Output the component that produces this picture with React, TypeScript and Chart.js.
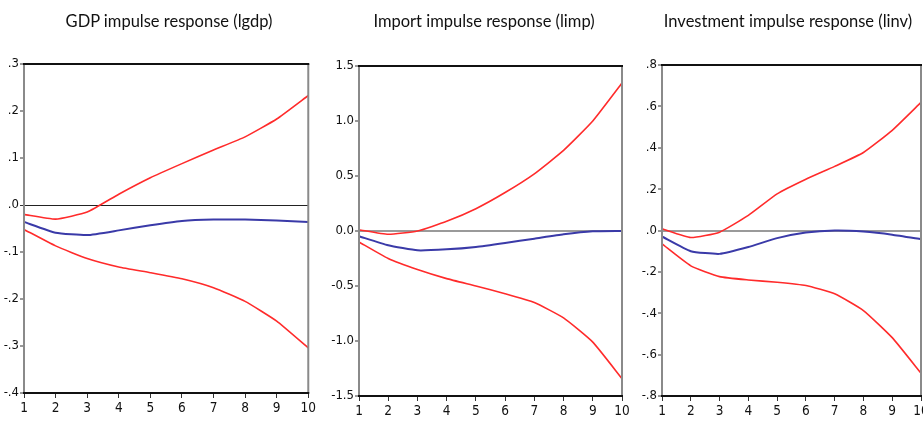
import React, { useEffect, useRef } from "react";
import { Chart, registerables } from "chart.js";

Chart.register(...registerables);

const periods = ["1", "2", "3", "4", "5", "6", "7", "8", "9", "10"];

const gdpUpper = [-0.02, -0.03, -0.015, 0.023, 0.058, 0.088, 0.117, 0.145, 0.183, 0.233];
const gdpMid = [-0.036, -0.059, -0.064, -0.054, -0.043, -0.034, -0.031, -0.031, -0.033, -0.036];
const gdpLower = [-0.052, -0.087, -0.114, -0.132, -0.144, -0.157, -0.176, -0.205, -0.247, -0.304];

const impUpper = [0.012, -0.03, 0.0, 0.088, 0.203, 0.35, 0.52, 0.733, 1.0, 1.345];
const impMid = [-0.048, -0.13, -0.176, -0.167, -0.145, -0.109, -0.07, -0.03, -0.003, 0.0];
const impLower = [-0.1, -0.25, -0.35, -0.433, -0.5, -0.57, -0.65, -0.79, -1.01, -1.342];

const invUpper = [0.008, -0.034, -0.008, 0.073, 0.177, 0.248, 0.31, 0.377, 0.484, 0.619];
const invMid = [-0.029, -0.1, -0.113, -0.08, -0.037, -0.01, 0.0, -0.005, -0.02, -0.042];
const invLower = [-0.065, -0.171, -0.223, -0.239, -0.25, -0.266, -0.306, -0.387, -0.518, -0.69];

const titles = [
  "GDP impulse response (lgdp)",
  "Import impulse response (limp)",
  "Investment impulse response (linv)",
];

const RED = "#ff2b2b";
const BLUE = "#3a3aa8";
const TICK_FONT = "'Liberation Sans Narrow', 'DejaVu Sans Condensed', Arial, sans-serif";

type PanelCfg = {
  upper: number[];
  mid: number[];
  lower: number[];
  min: number;
  max: number;
  step: number;
  dropZero: boolean;
  zeroColor: string;
  zeroWidth: number;
  left: number;
  width: number;
  yWidth: number;
  padRight: number;
  top: number;
  bottom: number;
  titleCenter: number;
};

const panels: PanelCfg[] = [
  {
    upper: gdpUpper, mid: gdpMid, lower: gdpLower,
    min: -0.4, max: 0.3, step: 0.1, dropZero: true,
    zeroColor: "#222", zeroWidth: 1,
    left: 0, width: 318, yWidth: 24, padRight: 9, top: 64, bottom: 393, titleCenter: 169,
  },
  {
    upper: impUpper, mid: impMid, lower: impLower,
    min: -1.5, max: 1.5, step: 0.5, dropZero: false,
    zeroColor: "#9a9a9a", zeroWidth: 2,
    left: 312, width: 320, yWidth: 47, padRight: 10, top: 66, bottom: 396, titleCenter: 484,
  },
  {
    upper: invUpper, mid: invMid, lower: invLower,
    min: -0.8, max: 0.8, step: 0.2, dropZero: true,
    zeroColor: "#9a9a9a", zeroWidth: 2,
    left: 620, width: 320, yWidth: 42, padRight: 19, top: 65, bottom: 396, titleCenter: 788,
  },
];

const framePlugin = {
  id: "frame",
  afterDraw(chart: any) {
    const { ctx, chartArea } = chart;
    const { left, right, top, bottom } = chartArea;
    ctx.save();
    ctx.lineWidth = 2;
    ctx.strokeStyle = "#8a8a8a";
    ctx.beginPath();
    ctx.moveTo(left, top);
    ctx.lineTo(left, bottom);
    ctx.moveTo(right, top);
    ctx.lineTo(right, bottom);
    ctx.stroke();
    ctx.strokeStyle = "#111";
    ctx.beginPath();
    ctx.moveTo(left - 1, top);
    ctx.lineTo(right + 1, top);
    ctx.moveTo(left - 1, bottom);
    ctx.lineTo(right + 1, bottom);
    ctx.stroke();
    ctx.restore();
  },
};

function Panel({ cfg }: { cfg: PanelCfg }) {
  const ref = useRef<HTMLCanvasElement | null>(null);
  useEffect(() => {
    if (!ref.current) return;
    const fmt = (v: number) => {
      let s = Number(v).toFixed(1);
      if (s === "-0.0") s = "0.0";
      if (cfg.dropZero) s = s.replace(/^(-?)0\./, "$1.");
      return s;
    };
    const chart = new Chart(ref.current, {
      type: "line",
      data: {
        labels: periods,
        datasets: [
          { data: cfg.upper, borderColor: RED, borderWidth: 1.6, pointRadius: 0, tension: 0.15, fill: false },
          { data: cfg.mid, borderColor: BLUE, borderWidth: 2, pointRadius: 0, tension: 0.15, fill: false },
          { data: cfg.lower, borderColor: RED, borderWidth: 1.6, pointRadius: 0, tension: 0.15, fill: false },
        ],
      },
      options: {
        animation: false,
        responsive: false,
        maintainAspectRatio: false,
        layout: { padding: { top: cfg.top, right: cfg.padRight, bottom: 0, left: 0 } },
        plugins: { legend: { display: false }, tooltip: { enabled: false }, title: { display: false } },
        scales: {
          x: {
            type: "category",
            offset: false,
            border: { display: false },
            grid: { drawOnChartArea: false, drawTicks: true, tickLength: 5, tickColor: "#333", tickWidth: 1 },
            ticks: { color: "#111", font: { family: TICK_FONT, size: 13.5 }, padding: 2, maxRotation: 0, autoSkip: false },
            afterFit: (s: any) => { s.height = 421 - cfg.bottom; },
          },
          y: {
            min: cfg.min,
            max: cfg.max,
            border: { display: false },
            grid: {
              drawOnChartArea: true,
              drawTicks: true,
              tickLength: 4,
              tickColor: "#333",
              tickWidth: 1,
              color: (c: any) => (c.tick && Math.abs(c.tick.value) < 1e-9 ? cfg.zeroColor : "rgba(0,0,0,0)"),
              lineWidth: (c: any) => (c.tick && Math.abs(c.tick.value) < 1e-9 ? cfg.zeroWidth : 0),
            },
            ticks: {
              stepSize: cfg.step,
              color: "#111",
              font: { family: TICK_FONT, size: 13 },
              padding: 1,
              callback: (v: any) => fmt(Number(v)),
            },
            afterFit: (s: any) => { s.width = cfg.yWidth; },
          },
        },
      },
      plugins: [framePlugin],
    });
    return () => chart.destroy();
  }, [cfg]);
  return (
    <canvas
      ref={ref}
      width={cfg.width}
      height={421}
      style={{ position: "absolute", left: cfg.left, top: 0, width: cfg.width, height: 421 }}
    />
  );
}

export default function App() {
  return (
    <div
      style={{
        position: "absolute",
        left: 0,
        top: 0,
        width: 923,
        height: 421,
        overflow: "hidden",
        background: "#fff",
      }}
    >
      {panels.map((p, i) => (
        <Panel key={i} cfg={p} />
      ))}
      {panels.map((p, i) => (
        <div
          key={"t" + i}
          style={{
            position: "absolute",
            left: p.titleCenter - 160,
            width: 320,
            top: 11,
            textAlign: "center",
            fontFamily: "Lato, 'Open Sans', sans-serif",
            fontSize: 16.5,
            lineHeight: "20px",
            color: "#111",
            whiteSpace: "nowrap",
          }}
        >
          {titles[i]}
        </div>
      ))}
    </div>
  );
}
